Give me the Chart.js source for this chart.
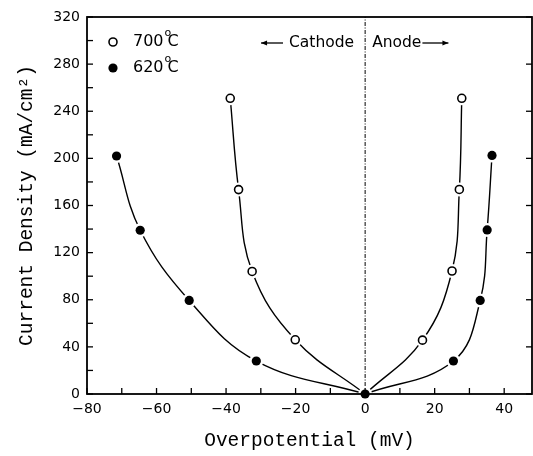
<!DOCTYPE html>
<html><head><meta charset="utf-8">
<script src="https://cdn.jsdelivr.net/npm/chart.js@4/dist/chart.umd.min.js"></script>
<style>html,body{margin:0;padding:0;background:#fff;overflow:hidden}canvas{display:block}</style>
</head><body><canvas id="c" width="533" height="456" style="width:533px;height:456px"></canvas>
<script>
// ---- data ----
const overpotential700Cathode = [-38.8, -36.4, -32.5, -20.1, 0];
const density700Cathode       = [251, 173.5, 104, 46, 0];
const overpotential700Anode   = [0, 16.5, 25.0, 27.1, 27.8];
const density700Anode         = [0, 45.7, 104.4, 173.6, 251];
const overpotential620Cathode = [-71.5, -64.7, -50.6, -31.3, 0];
const density620Cathode       = [202, 139, 79.4, 28, 0];
const overpotential620Anode   = [0, 25.4, 33.1, 35.1, 36.5];
const density620Anode         = [0, 28, 79.4, 139.3, 202.5];
const seriesLabels = ['700', '620'];
const xRange = [-80, 48];
const yRange = [0, 320];
const xTickStep = 10, xLabelStep = 20;
const yTickStep = 20, yLabelStep = 40;
const regionLabels = ['Cathode', 'Anode'];
const xTitle = 'Overpotential (mV)';
const yTitle = 'Current Density (mA/cm\u00B2)';

const pts = (xs, ys) => xs.map((x, i) => ({x, y: ys[i]}));
const noOrigin = p => !(p.x === 0 && p.y === 0);

const m700 = pts(overpotential700Cathode, density700Cathode).concat(pts(overpotential700Anode, density700Anode)).filter(noOrigin);
const m620 = pts(overpotential620Cathode, density620Cathode).concat(pts(overpotential620Anode, density620Anode)).filter(noOrigin).concat([{x:0,y:0}]);

const lineDs = (data) => ({type:'scatter', data, showLine:true, borderColor:'#000', borderWidth:1.4,
  pointRadius:0, tension:0.4, fill:false, order:5});

const datasets = [
  {data:[{x:0,y:yRange[0]},{x:0,y:yRange[1]}], showLine:true, borderColor:'#000', borderWidth:1,
   borderDash:[4,1.5,1,1.5], pointRadius:0, order:6},
  lineDs(pts(overpotential700Cathode, density700Cathode)),
  lineDs(pts(overpotential700Anode, density700Anode)),
  lineDs(pts(overpotential620Cathode, density620Cathode)),
  lineDs(pts(overpotential620Anode, density620Anode)),
  {data:m700.concat(m620), showLine:false, pointRadius:7, pointBackgroundColor:'#fff', pointBorderWidth:0, pointBorderColor:'#fff', order:3, clip:false},
  {label:seriesLabels[0], data:m700, showLine:false, pointRadius:4, pointBackgroundColor:'#fff', pointBorderColor:'#000', pointBorderWidth:1.6, order:1, clip:false},
  {label:seriesLabels[1], data:m620, showLine:false, pointRadius:4.6, pointBackgroundColor:'#000', pointBorderColor:'#000', pointBorderWidth:0, order:1, clip:false}
];

const TICKFONT = 'DejaVu Sans';
const frame = {
  id:'frame',
  afterDraw(chart){
    const {ctx, chartArea:a, scales:{x, y}} = chart;
    ctx.save();
    ctx.strokeStyle = '#000';
    ctx.lineWidth = 1.3;
    x.ticks.forEach(t => {
      const px = x.getPixelForValue(t.value);
      ctx.beginPath(); ctx.moveTo(px, a.bottom); ctx.lineTo(px, a.bottom - 6); ctx.stroke();
    });
    y.ticks.forEach(t => {
      const py = y.getPixelForValue(t.value);
      ctx.beginPath(); ctx.moveTo(a.left, py); ctx.lineTo(a.left + 6, py); ctx.stroke();
      if (t.value % yLabelStep === 0) {
        ctx.beginPath(); ctx.moveTo(a.right, py); ctx.lineTo(a.right - 6, py); ctx.stroke();
      }
    });
    ctx.lineWidth = 1.8;
    ctx.strokeRect(a.left, a.top, a.right - a.left, a.bottom - a.top);

    // legend
    const ds700 = chart.data.datasets[6], ds620 = chart.data.datasets[7];
    const lx = a.left + 26;
    const rows = [[ds700, a.top + 25], [ds620, a.top + 51]];
    rows.forEach(([ds, ly]) => {
      ctx.beginPath(); ctx.arc(lx, ly, ds.pointRadius, 0, Math.PI*2);
      ctx.fillStyle = ds.pointBackgroundColor; ctx.fill();
      if (ds.pointBorderWidth) { ctx.lineWidth = ds.pointBorderWidth; ctx.stroke(); }
      ctx.fillStyle = '#000';
      ctx.textBaseline = 'middle'; ctx.textAlign = 'left';
      ctx.font = '16px ' + TICKFONT;
      const tx = lx + 20;
      ctx.fillText(ds.label, tx, ly);
      const w = ctx.measureText(ds.label).width;
      ctx.font = '11px ' + TICKFONT;
      ctx.fillText('o', tx + w + 1, ly - 9);
      ctx.font = '16px ' + TICKFONT;
      ctx.fillText('C', tx + w + 4, ly);
    });

    // Cathode / Anode annotation
    const x0 = x.getPixelForValue(0);
    const ay = a.top + 26;
    ctx.font = '15.5px ' + TICKFONT;
    ctx.textBaseline = 'middle';
    ctx.textAlign = 'right';
    ctx.fillText(regionLabels[0], x0 - 11, ay);
    const cw = ctx.measureText(regionLabels[0]).width;
    ctx.textAlign = 'left';
    ctx.fillText(regionLabels[1], x0 + 7, ay);
    const aw = ctx.measureText(regionLabels[1]).width;
    const arrow = (from, to) => {
      ctx.lineWidth = 1.3;
      ctx.beginPath(); ctx.moveTo(from, ay); ctx.lineTo(to, ay); ctx.stroke();
      const d = Math.sign(to - from);
      ctx.beginPath(); ctx.moveTo(to, ay); ctx.lineTo(to - d*6, ay - 2.5); ctx.lineTo(to - d*6, ay + 2.5); ctx.closePath(); ctx.fill();
    };
    arrow(x0 - 11 - cw - 6, x0 - 11 - cw - 28);
    arrow(x0 + 7 + aw + 1, x0 + 7 + aw + 27);
    ctx.restore();
  }
};

new Chart(document.getElementById('c'), {
  type:'scatter',
  data:{datasets},
  plugins:[frame],
  options:{
    responsive:false, maintainAspectRatio:false, animation:false, devicePixelRatio:1,
    layout:{autoPadding:false, padding:{top:17, right:1, left:0, bottom:0}},
    plugins:{legend:{display:false}, tooltip:{enabled:false}},
    scales:{
      x:{type:'linear', min:xRange[0], max:xRange[1],
        afterFit(s){ s.height = 62; s.paddingLeft = 0; s.paddingRight = 0; },
        border:{display:false}, grid:{display:false, drawTicks:false},
        ticks:{stepSize:xTickStep, includeBounds:false, autoSkip:false, maxRotation:0, padding:7, color:'#000',
          font:{family:TICKFONT, size:14},
          callback:v => (v % xLabelStep === 0 ? String(v).replace('-', '\u2212') : '')},
        title:{display:true, text:xTitle, color:'#000', font:{family:'Liberation Mono', size:19.5}, padding:{top:4,bottom:3}}
      },
      y:{type:'linear', min:yRange[0], max:yRange[1],
        afterFit(s){ s.width = 87; s.paddingTop = 0; s.paddingBottom = 0; },
        border:{display:false}, grid:{display:false, drawTicks:false},
        ticks:{stepSize:yTickStep, includeBounds:false, autoSkip:false, padding:7, color:'#000',
          font:{family:TICKFONT, size:14},
          callback:v => (v % yLabelStep === 0 ? String(v) : '')},
        title:{display:true, text:yTitle, color:'#000', font:{family:'Liberation Mono', size:19.5}, padding:{top:15,bottom:4}}
      }
    }
  }
});
</script>
</body></html>
